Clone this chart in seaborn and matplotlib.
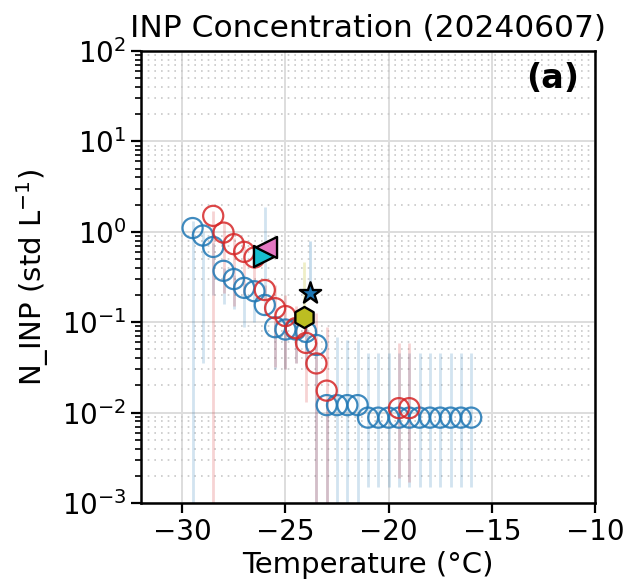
import matplotlib
matplotlib.use("Agg")
import matplotlib.pyplot as plt
import numpy as np
import pandas as pd
import seaborn as sns

# blue series (open circles)
BLUE_T = [-29.5, -29.0, -28.5, -28.0, -27.5, -27.0, -26.5, -26.0, -25.5, -25.0,
          -24.5, -24.0, -23.5, -23.0, -22.5, -22.0, -21.5, -21.0, -20.5, -20.0,
          -19.5, -19.0, -18.5, -18.0, -17.5, -17.0, -16.5, -16.0]
BLUE_N = [1.10, 0.91, 0.68, 0.37, 0.30, 0.24, 0.22, 0.155, 0.088, 0.083,
          0.083, 0.078, 0.056, 0.0121, 0.0121, 0.0121, 0.0121, 0.0088, 0.0088, 0.0088,
          0.0088, 0.0088, 0.0088, 0.0088, 0.0088, 0.0088, 0.0088, 0.0088]
BLUE_LO = [1e-4, 0.035, 0.2, 0.16, 0.14, 0.089, 0.10, 0.12, 0.03, 0.03,
           0.035, 0.03, 1e-4, 1e-4, 1e-4, 1e-4, 1e-4, 0.0015, 0.0015, 0.0015,
           0.0015, 0.0015, 0.0015, 0.0015, 0.0015, 0.0015, 0.0015, 0.0015]
BLUE_HI = [1.3, 1.0, 0.75, 0.40, 0.33, 0.27, 0.24, 1.88, 0.10, 0.10,
           0.10, 0.09, 0.06, 0.014, 0.068, 0.064, 0.064, 0.046, 0.046, 0.046,
           0.046, 0.046, 0.046, 0.046, 0.046, 0.046, 0.046, 0.046]

# red series (open circles)
RED_T = [-28.5, -28.0, -27.5, -27.0, -26.5, -26.0, -25.5, -25.0, -24.5, -24.0,
         -23.5, -23.0, -19.5, -19.0]
RED_N = [1.50, 0.98, 0.73, 0.60, 0.52, 0.227, 0.143, 0.117, 0.086, 0.059,
         0.035, 0.0175, 0.0112, 0.0112]
RED_LO = [1e-4, 0.21, 0.15, 0.2, 0.25, 0.18, 0.032, 0.03, 0.035, 0.013,
          1e-4, 1e-4, 0.0019, 0.0017]
RED_HI = [1.7, 1.25, 0.85, 0.7, 0.6, 0.26, 0.26, 0.2, 0.15, 0.14,
          0.126, 0.089, 0.059, 0.059]

# single reference points: (temp, N, lo, hi, marker, color)
SPECIAL = [
    (-23.8, 0.21, 0.18, 0.80, "*", "#1f77b4"),
    (-24.1, 0.113, 0.09, 0.46, "h", "#bcbd22"),
    (-26.05, 0.54, None, None, ">", "#17becf"),
    (-25.95, 0.68, None, None, "<", "#e377c2"),
]

BLUE = "#1f77b4"
RED = "#d62728"

sns.set_style("ticks")
plt.rcParams["font.family"] = ["DejaVu Sans"]
plt.rcParams["text.color"] = "black"
plt.rcParams["axes.labelcolor"] = "black"
plt.rcParams["xtick.color"] = "black"
plt.rcParams["ytick.color"] = "black"

fig = plt.figure(figsize=(6.23, 5.86), dpi=100)
ax = fig.add_axes([0.2263, 0.1416, 0.7287, 0.7714])

ax.set_yscale("log")


def errbars(t, n, lo, hi, color):
    n = np.asarray(n)
    yerr = [n - np.asarray(lo), np.asarray(hi) - n]
    ax.errorbar(t, n, yerr=yerr, fmt="none", ecolor=color, alpha=0.2,
                elinewidth=2, capsize=0, zorder=2)


errbars(BLUE_T, BLUE_N, BLUE_LO, BLUE_HI, BLUE)
errbars(RED_T, RED_N, RED_LO, RED_HI, RED)

df_b = pd.DataFrame({"T": BLUE_T, "N": BLUE_N})
df_r = pd.DataFrame({"T": RED_T, "N": RED_N})
sns.scatterplot(data=df_b, x="T", y="N", ax=ax, marker="o", s=210,
                facecolor="none", edgecolor=BLUE, linewidth=1.6, alpha=0.85, zorder=3)
sns.scatterplot(data=df_r, x="T", y="N", ax=ax, marker="o", s=210,
                facecolor="none", edgecolor=RED, linewidth=1.6, alpha=0.85, zorder=3)

for t, n, lo, hi, m, c in SPECIAL:
    if lo is not None:
        ax.errorbar([t], [n], yerr=[[n - lo], [hi - n]], fmt="none", ecolor=c,
                    alpha=0.25, elinewidth=2, capsize=0, zorder=2)
    size = 260 if m == "*" else 230
    ax.scatter([t], [n], marker=m, s=size, color=c, edgecolor="black",
               linewidth=1.7, zorder=5)

ax.set_xlim(-32, -10)
ax.set_ylim(1e-3, 1e2)
ax.set_xticks([-30, -25, -20, -15, -10])

ax.grid(True, which="major", color="#dddddd", linewidth=1.4)
ax.grid(True, which="minor", axis="y", color="#c8c8c8", linestyle=(0, (1, 3)),
        linewidth=1.2)
ax.set_axisbelow(True)

for s in ax.spines.values():
    s.set_linewidth(1.8)
    s.set_color("black")
ax.tick_params(which="major", labelsize=20, length=7, width=1.6)
ax.tick_params(which="minor", length=4, width=1.2)

ax.set_xlabel("Temperature (°C)", fontsize=21)
ax.set_ylabel("N_INP (std L$^{-1}$)", fontsize=21, labelpad=8)
ax.set_title("INP Concentration (20240607)", fontsize=22.5, pad=10)
ax.text(0.965, 0.975, "(a)", transform=ax.transAxes, ha="right", va="top",
        fontsize=24, fontweight="bold")

fig.savefig("out.png", dpi=100, facecolor="white")
